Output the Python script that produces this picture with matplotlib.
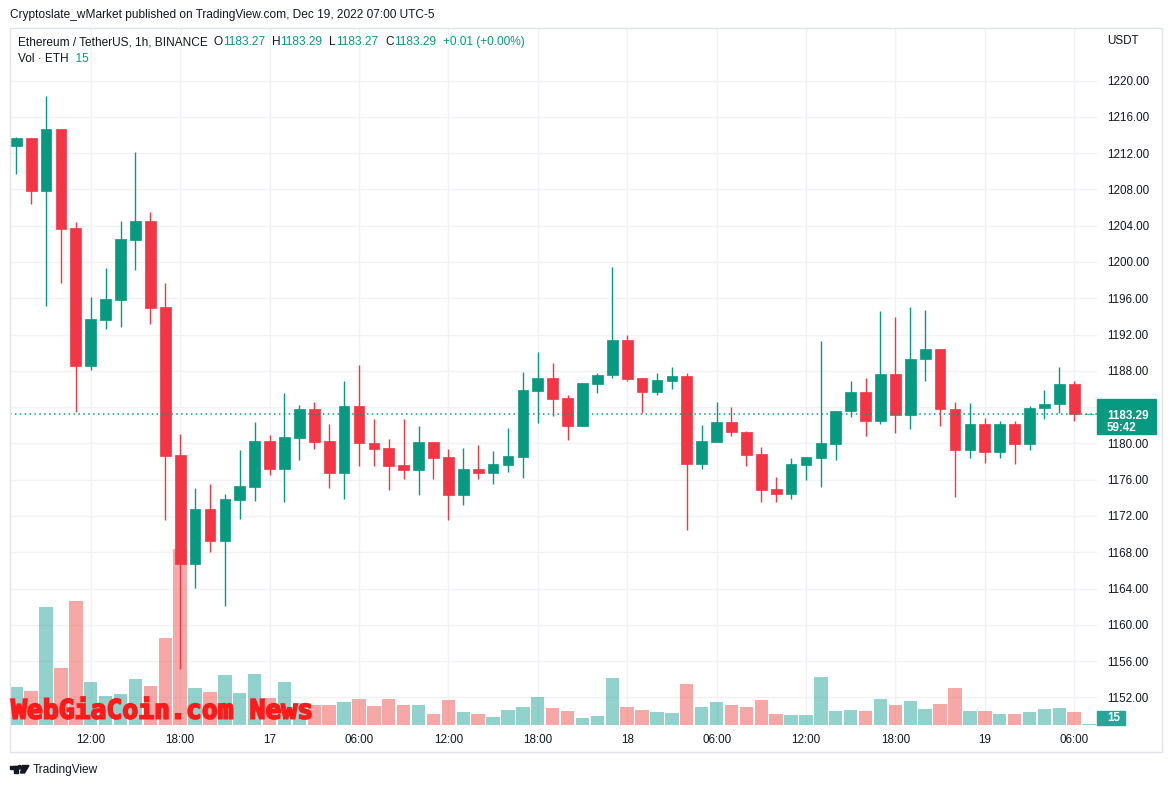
import numpy as np
import pandas as pd
import matplotlib
matplotlib.use('Agg')
import matplotlib.pyplot as plt
from matplotlib.patches import Rectangle, PathPatch, Circle, Polygon
from matplotlib.textpath import TextPath
from matplotlib.font_manager import FontProperties
from matplotlib.transforms import Affine2D, blended_transform_factory

plt.rcParams['font.family'] = ['Liberation Sans', 'DejaVu Sans']

# ---- data: ETH/USDT 1h candles, Binance, Dec 16 07:00 -> Dec 19 07:00 ----
times = pd.date_range('2022-12-16 07:00', periods=73, freq='h')
opens = [1212.76, 1213.62, 1207.85, 1214.63, 1203.71, 1188.52, 1193.58, 1195.82, 1202.41, 1204.57,
         1195.00, 1178.68, 1166.73, 1172.73, 1169.26, 1173.77, 1175.22, 1180.25, 1177.20, 1180.58,
         1183.75, 1180.25, 1176.75, 1184.09, 1180.03, 1179.47, 1177.64, 1177.12, 1180.16, 1178.51,
         1174.27, 1177.20, 1176.79, 1177.67, 1178.51, 1185.76, 1187.19, 1184.99, 1181.95, 1186.57,
         1187.52, 1191.36, 1187.19, 1185.69, 1186.90, 1187.41, 1177.78, 1180.20, 1182.41, 1181.31,
         1178.78, 1174.93, 1174.42, 1177.60, 1178.34, 1179.91, 1183.54, 1185.70, 1182.44, 1187.68,
         1183.10, 1189.26, 1190.43, 1183.83, 1179.25, 1182.19, 1179.03, 1182.19, 1179.91, 1183.87,
         1184.31, 1186.58, 1183.27]
highs = [1213.81, 1213.70, 1218.28, 1214.70, 1204.46, 1196.11, 1199.28, 1204.57, 1212.09, 1205.46,
         1197.64, 1181.00, 1175.07, 1175.52, 1174.40, 1179.24, 1182.33, 1180.88, 1185.54, 1184.20,
         1184.53, 1182.11, 1186.84, 1188.61, 1182.67, 1180.47, 1182.69, 1181.92, 1180.20, 1179.39,
         1179.50, 1179.83, 1179.17, 1181.70, 1187.85, 1190.04, 1188.84, 1185.32, 1186.64, 1187.74,
         1199.49, 1191.91, 1187.20, 1187.74, 1188.40, 1187.74, 1182.03, 1184.55, 1184.05, 1181.42,
         1179.55, 1176.25, 1178.34, 1178.45, 1191.24, 1183.61, 1186.91, 1187.24, 1194.61, 1193.95,
         1195.05, 1194.72, 1190.43, 1184.60, 1184.49, 1182.84, 1182.52, 1182.52, 1184.16, 1185.92,
         1188.45, 1186.91, 1183.29]
lows = [1209.71, 1206.36, 1195.18, 1197.68, 1183.45, 1188.11, 1192.58, 1192.84, 1199.09, 1193.17,
        1171.57, 1155.17, 1164.09, 1168.03, 1162.04, 1171.68, 1173.66, 1176.53, 1173.55, 1178.17,
        1179.39, 1175.11, 1173.88, 1177.53, 1177.53, 1174.88, 1176.10, 1174.27, 1176.10, 1171.52,
        1173.17, 1176.03, 1175.48, 1176.90, 1176.24, 1182.28, 1183.05, 1180.42, 1181.95, 1185.58,
        1187.23, 1186.90, 1183.31, 1185.36, 1186.02, 1170.42, 1177.23, 1180.20, 1180.79, 1177.49,
        1173.54, 1173.54, 1173.87, 1175.96, 1175.19, 1178.15, 1182.88, 1180.79, 1182.11, 1181.12,
        1181.56, 1186.84, 1181.89, 1174.09, 1178.37, 1177.82, 1178.37, 1177.71, 1179.25, 1182.66,
        1183.36, 1182.44, 1183.27]
closes = [1213.62, 1207.85, 1214.63, 1203.64, 1188.52, 1193.69, 1195.89, 1202.48, 1204.57, 1194.92,
          1178.61, 1166.73, 1172.73, 1169.26, 1173.84, 1175.26, 1180.25, 1177.20, 1180.66, 1183.75,
          1180.17, 1176.75, 1184.09, 1180.07, 1179.39, 1177.53, 1177.12, 1180.16, 1178.40, 1174.27,
          1177.20, 1176.79, 1177.75, 1178.62, 1185.87, 1187.19, 1184.92, 1181.95, 1186.64, 1187.52,
          1191.36, 1187.12, 1185.69, 1186.97, 1187.41, 1177.78, 1180.27, 1182.36, 1181.23, 1178.70,
          1174.86, 1174.42, 1177.68, 1178.45, 1179.99, 1183.61, 1185.70, 1182.44, 1187.68, 1183.10,
          1189.33, 1190.43, 1183.76, 1179.25, 1182.19, 1179.03, 1182.19, 1179.91, 1183.94, 1184.38,
          1186.58, 1183.28, 1183.29]
volumes = [456, 408, 1416, 684, 1488, 516, 348, 372, 552, 468,
           1044, 2112, 444, 396, 600, 384, 612, 324, 516, 264,
           240, 240, 276, 312, 228, 312, 240, 240, 132, 300,
           156, 132, 96, 180, 216, 336, 204, 168, 84, 108,
           564, 216, 180, 156, 144, 492, 216, 276, 240, 216,
           300, 132, 120, 120, 576, 168, 180, 168, 312, 240,
           288, 192, 252, 444, 168, 168, 132, 132, 156, 192,
           204, 156, 15]
price_levels = np.arange(1152, 1221, 4)
time_labels = ['12:00', '18:00', '17', '06:00', '12:00', '18:00', '18',
               '06:00', '12:00', '18:00', '19', '06:00']

GREEN, RED = '#089981', '#f23645'
VGREEN, VRED = '#26a69a', '#ef5350'
GRID = '#f0f2f6'
TXT = '#131722'

W, H = 1171, 788
fig = plt.figure(figsize=(W / 100, H / 100), dpi=100)

# plot pane in pixels
L, R, T, B = 10, 1097, 28, 727
rect = [L / W, 1 - B / H, (R - L) / W, (B - T) / H]

ax_vol = fig.add_axes(rect)
ax = fig.add_axes(rect, sharex=ax_vol)
ax.patch.set_visible(False)

x = np.arange(len(times))
o, hi, lo, c = map(np.array, (opens, highs, lows, closes))
up = c >= o
col = np.where(up, GREEN, RED)

ax.set_xlim(-0.42, 72.53)
ax.set_ylim(1148.74, 1225.79)
ax_vol.set_ylim(-24, 8364)

# grid (behind volume)
tick_pos = [i for i, t in enumerate(times) if t.hour % 6 == 0]
ygrid = blended_transform_factory(ax_vol.transAxes, ax.transData)
ax_vol.hlines(price_levels, 0, 1, transform=ygrid, color=GRID, lw=1, zorder=0)
for p in tick_pos:
    ax_vol.axvline(p, color=GRID, lw=1, zorder=0)

# volume
ax_vol.bar(x, volumes, width=0.9, color=np.where(up, VGREEN, VRED), alpha=0.5, zorder=2)

# candles
ax.vlines(x, lo, hi, colors=col, lw=1.0, zorder=3)
ax.bar(x, np.abs(c - o), bottom=np.minimum(o, c), width=0.72, color=col,
       edgecolor=col, lw=0.5, zorder=4)
last_price = closes[-1]
ax.axhline(last_price, color=GREEN, lw=1.1, ls=(0, (1, 2.2)), zorder=5)

# axes ticks
ax.yaxis.tick_right()
ax.set_yticks(price_levels)
ax.set_yticklabels([f'{v:.2f}' for v in price_levels])
ax.tick_params(axis='y', length=0, pad=7, labelsize=8.4, labelcolor=TXT)
ax.set_xticks(tick_pos)
ax.set_xticklabels(time_labels)
ax.tick_params(axis='x', length=0, pad=5, labelsize=8.4, labelcolor=TXT)
ax_vol.set_yticks([])
ax_vol.tick_params(axis='x', labelbottom=False, length=0)
for a in (ax, ax_vol):
    for s in a.spines.values():
        s.set_visible(False)

# overlay in pixel coords
ov = fig.add_axes([0, 0, 1, 1])
ov.set_xlim(0, W)
ov.set_ylim(H, 0)
ov.axis('off')
ov.set_zorder(10)

ov.add_patch(Rectangle((10, 28), 1152, 724, fill=False, ec='#e0e3eb', lw=1))

ov.text(10, 15, 'Cryptoslate_wMarket published on TradingView.com, Dec 19, 2022 07:00 UTC-5',
        fontsize=8.6, color=TXT, va='center')
ov.text(18, 42, 'Ethereum / TetherUS, 1h, BINANCE', fontsize=8.6, color=TXT, va='center')

# O H L C legend, chained left to right
prev = ov.text(213.6, 42, 'O', fontsize=8.6, color=TXT, va='center')
for i, (lab, val) in enumerate([('O', opens[-1]), ('H', highs[-1]), ('L', lows[-1]), ('C', closes[-1])]):
    if i > 0:
        prev = ov.annotate(lab, xy=(1, 0.5), xycoords=prev, xytext=(5, 0),
                           textcoords='offset points', va='center', fontsize=8.6, color=TXT)
    prev = ov.annotate(f'{val:.2f}', xy=(1, 0.5), xycoords=prev, va='center',
                       fontsize=8.6, color=GREEN)
chg = closes[-1] - closes[-2]
ov.annotate(f'+{chg:.2f} (+{chg / closes[-2] * 100:.2f}%)', xy=(1, 0.5), xycoords=prev,
            xytext=(5, 0), textcoords='offset points', va='center', fontsize=8.6, color=GREEN)

t = ov.text(18, 59, 'Vol · ETH', fontsize=8.6, color=TXT, va='center')
ov.annotate(f'  {volumes[-1]}', xy=(1, 0.5), xycoords=t, va='center', fontsize=8.6, color=GREEN)

ov.text(1107, 41, 'USDT', fontsize=8.4, color=TXT, va='center')

# last price label box (price line sits near top of box, countdown below)
yb = blended_transform_factory(ov.transData, ax.transData)
ov.add_patch(Rectangle((1097, last_price - 2.2), 59, 3.75, transform=yb, color=GREEN, zorder=5))
ov.text(1107, last_price - 0.97, f'{last_price:.2f}\n59:42', transform=yb, fontsize=8.4,
        color='white', weight='bold', va='center', ha='left', multialignment='left',
        linespacing=1.0, zorder=6)

# volume label box
ov.add_patch(Rectangle((1097, 711), 28, 13.5, color=VGREEN, zorder=5))
ov.text(1107, 717.8, f'{volumes[-1]}', fontsize=8.4, color='white', weight='bold',
        va='center', zorder=6)

# watermark
fp = FontProperties(family='DejaVu Sans Mono', weight='bold')
tp = TextPath((0, 0), 'WebGiaCoin.com News', size=30, prop=fp)
ext = tp.get_extents()
tr = (Affine2D().translate(-ext.x0, -ext.y0)
      .scale((311 - 11) / ext.width, -(719 - 697) / ext.height)
      .translate(11, 719) + ov.transData)
ov.add_patch(PathPatch(tp, transform=tr, fc='#ff1a1a', ec='#ff1a1a', lw=1.3, zorder=7))

# TradingView logo + text
ov.add_patch(Rectangle((10, 765.5), 7.5, 3.2, color=TXT))
ov.add_patch(Rectangle((14.2, 765.5), 3.3, 7.5, color=TXT))
ov.add_patch(Circle((19.8, 767.2), 1.7, color=TXT))
ov.add_patch(Polygon([(22.5, 765.5), (29, 765.5), (24.5, 773), (20.5, 773)], color=TXT))
ov.text(33, 770.5, 'TradingView', fontsize=8.6, color=TXT, va='center')

fig.savefig('out.png', dpi=100)
